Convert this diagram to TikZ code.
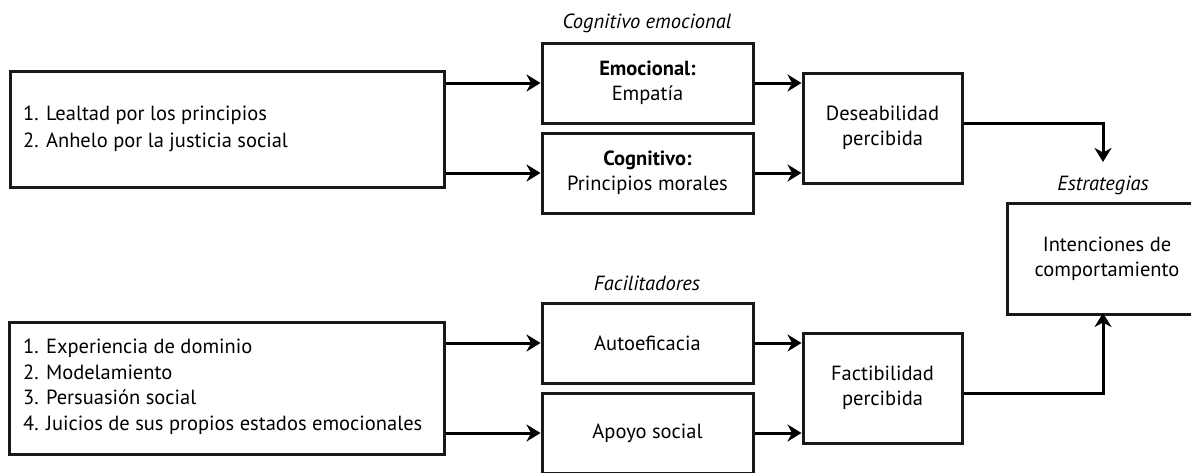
\documentclass[tikz,border=0pt]{standalone}
\usepackage{fontspec}
\setmainfont{PT Sans}
\usetikzlibrary{arrows.meta,positioning}
\tikzset{
  box/.style={draw=black!90, line width=3pt, rectangle, inner sep=0pt, align=center, font=\fontsize{20.5}{25}\selectfont},
  conn/.style={line width=3pt, -{Stealth[length=14pt,width=17pt,inset=4.5pt]}},
  lab/.style={font=\fontsize{20.5}{25}\selectfont\itshape, inner sep=0pt}
}
\begin{document}
\begin{tikzpicture}[x=1pt,y=-1pt]
\useasboundingbox (0,0) rectangle (1191,472);
\clip (0,0) rectangle (1191,472);
% left boxes
\node[box, minimum width=434pt, minimum height=116pt] (L1) at (227,129) {};
\node[anchor=west, align=left, inner sep=0pt, font=\fontsize{20.5}{27}\selectfont] (L1t) at (23,128.5) {1. Lealtad por los principios\\2. Anhelo por la justicia social};
\node[box, minimum width=435pt, minimum height=132pt] (L2) at (226.5,388) {};
\node[anchor=west, align=left, inner sep=0pt, font=\fontsize{20.5}{25.5}\selectfont] (L2t) at (23,386.5) {1. Experiencia de dominio\\2. Modelamiento\\3. Persuasión social\\4. Juicios de sus propios estados emocionales};
% middle boxes
\node[box, minimum width=211pt, minimum height=80pt] (E) at (647.5,83) {\textbf{Emocional:}\\Empatía};
\node[box, minimum width=211pt, minimum height=80pt] (C) at (647.5,173) {\textbf{Cognitivo:}\\Principios morales};
\node[box, minimum width=211pt, minimum height=80pt] (A) at (647.5,343) {Autoeficacia};
\node[box, minimum width=211pt, minimum height=80pt] (S) at (647.5,433) {Apoyo social};
% right boxes
\node[box, minimum width=159pt, minimum height=110pt] (D) at (882.5,128) {Deseabilidad\\percibida};
\node[box, minimum width=159pt, minimum height=110pt] (F) at (882.5,388) {Factibilidad\\percibida};
\node[box, minimum width=200pt, minimum height=111pt] (I) at (1107,258.5) {Intenciones de\\comportamiento};
% labels
\node[lab] (ce) at (647,23) {Cognitivo emocional};
\node[lab] (fa) at (647,283) {Facilitadores};
\node[lab] (es) at (1103,185) {Estrategias};
% connector ends
\coordinate (dtip) at (1103,162);
\coordinate (ftip) at (1103,313);
% connectors
\draw[conn] (L1.east |- E.west) -- (E.west);
\draw[conn] (L1.east |- C.west) -- (C.west);
\draw[conn] (L2.east |- A.west) -- (A.west);
\draw[conn] (L2.east |- S.west) -- (S.west);
\draw[conn] (E.east) -- (E.east -| D.west);
\draw[conn] (C.east) -- (C.east -| D.west);
\draw[conn] (A.east) -- (A.east -| F.west);
\draw[conn] (S.east) -- (S.east -| F.west);
\draw[conn] ([yshift=5pt]D.east) -| (dtip);
\draw[conn] ([yshift=-5pt]F.east) -| (ftip);
\end{tikzpicture}
\end{document}
